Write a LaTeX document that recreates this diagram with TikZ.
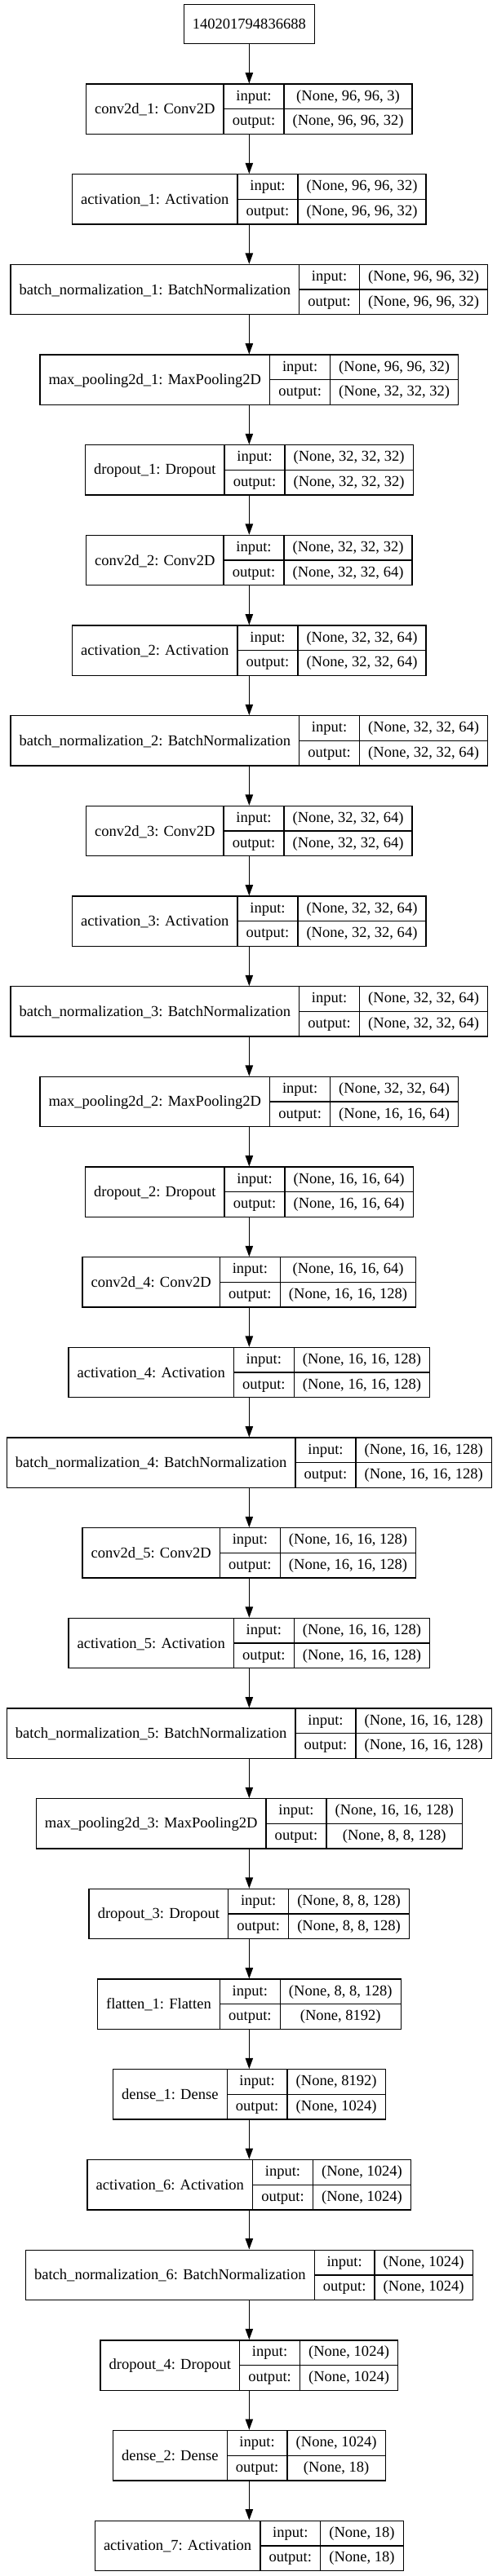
\documentclass[tikz,border=0pt]{standalone}
\usepackage{fontspec}
\setmainfont{Liberation Serif}
\usetikzlibrary{arrows.meta}
\newcommand\lfont{\fontsize{13.9pt}{23pt}\selectfont}
\newcommand\rs{\rule[-3pt]{0pt}{13pt}}
\newcommand\rl{\rule[-2pt]{0pt}{13pt}}
\tikzset{
  cell/.style={draw, line width=1pt, inner xsep=8pt, inner ysep=0pt, outer sep=0pt,
               minimum height=46pt, anchor=center, font=\lfont, align=center},
  rec/.style={inner sep=0pt, outer sep=0pt, column sep=-1pt, ampersand replacement=\&},
  divider/.style={line width=1pt},
  arr/.style={line width=1pt, -{Triangle[length=10pt,width=7pt]}},
}
% #1 name, #2 index, #3 label, #4 input shape, #5 output shape
\newcommand\layerrec[5]{%
  \pgfmathsetmacro\LWy{-100.35-83*(#2-1)}%
  \matrix[rec] (#1) at (229,\LWy) {
    \node[cell] (#1-lab) {\rl #3}; \&
    \node[cell] (#1-io) {\rs input:\\\rs output:}; \&
    \node[cell] (#1-val) {\rs #4\\\rs #5}; \\
  };
  \draw[divider] (#1-io.west) -- (#1-val.east);
}
\begin{document}
\begin{tikzpicture}[x=1pt,y=1pt]
\fill[white] (0,0) rectangle (456,-2369.25);
\useasboundingbox (0,0) rectangle (456,-2369.25);
\node[cell, minimum height=36pt] (L0) at (229,-22.35) {\rl 140201794836688};
\layerrec{L1}{1}{conv2d\_1: Conv2D}{(None, 96, 96, 3)}{(None, 96, 96, 32)}
\layerrec{L2}{2}{activation\_1: Activation}{(None, 96, 96, 32)}{(None, 96, 96, 32)}
\layerrec{L3}{3}{batch\_normalization\_1: BatchNormalization}{(None, 96, 96, 32)}{(None, 96, 96, 32)}
\layerrec{L4}{4}{max\_pooling2d\_1: MaxPooling2D}{(None, 96, 96, 32)}{(None, 32, 32, 32)}
\layerrec{L5}{5}{dropout\_1: Dropout}{(None, 32, 32, 32)}{(None, 32, 32, 32)}
\layerrec{L6}{6}{conv2d\_2: Conv2D}{(None, 32, 32, 32)}{(None, 32, 32, 64)}
\layerrec{L7}{7}{activation\_2: Activation}{(None, 32, 32, 64)}{(None, 32, 32, 64)}
\layerrec{L8}{8}{batch\_normalization\_2: BatchNormalization}{(None, 32, 32, 64)}{(None, 32, 32, 64)}
\layerrec{L9}{9}{conv2d\_3: Conv2D}{(None, 32, 32, 64)}{(None, 32, 32, 64)}
\layerrec{L10}{10}{activation\_3: Activation}{(None, 32, 32, 64)}{(None, 32, 32, 64)}
\layerrec{L11}{11}{batch\_normalization\_3: BatchNormalization}{(None, 32, 32, 64)}{(None, 32, 32, 64)}
\layerrec{L12}{12}{max\_pooling2d\_2: MaxPooling2D}{(None, 32, 32, 64)}{(None, 16, 16, 64)}
\layerrec{L13}{13}{dropout\_2: Dropout}{(None, 16, 16, 64)}{(None, 16, 16, 64)}
\layerrec{L14}{14}{conv2d\_4: Conv2D}{(None, 16, 16, 64)}{(None, 16, 16, 128)}
\layerrec{L15}{15}{activation\_4: Activation}{(None, 16, 16, 128)}{(None, 16, 16, 128)}
\layerrec{L16}{16}{batch\_normalization\_4: BatchNormalization}{(None, 16, 16, 128)}{(None, 16, 16, 128)}
\layerrec{L17}{17}{conv2d\_5: Conv2D}{(None, 16, 16, 128)}{(None, 16, 16, 128)}
\layerrec{L18}{18}{activation\_5: Activation}{(None, 16, 16, 128)}{(None, 16, 16, 128)}
\layerrec{L19}{19}{batch\_normalization\_5: BatchNormalization}{(None, 16, 16, 128)}{(None, 16, 16, 128)}
\layerrec{L20}{20}{max\_pooling2d\_3: MaxPooling2D}{(None, 16, 16, 128)}{(None, 8, 8, 128)}
\layerrec{L21}{21}{dropout\_3: Dropout}{(None, 8, 8, 128)}{(None, 8, 8, 128)}
\layerrec{L22}{22}{flatten\_1: Flatten}{(None, 8, 8, 128)}{(None, 8192)}
\layerrec{L23}{23}{dense\_1: Dense}{(None, 8192)}{(None, 1024)}
\layerrec{L24}{24}{activation\_6: Activation}{(None, 1024)}{(None, 1024)}
\layerrec{L25}{25}{batch\_normalization\_6: BatchNormalization}{(None, 1024)}{(None, 1024)}
\layerrec{L26}{26}{dropout\_4: Dropout}{(None, 1024)}{(None, 1024)}
\layerrec{L27}{27}{dense\_2: Dense}{(None, 1024)}{(None, 18)}
\layerrec{L28}{28}{activation\_7: Activation}{(None, 18)}{(None, 18)}
\foreach \i in {1,...,28}{%
  \pgfmathtruncatemacro\j{\i-1}%
  \draw[arr] (L\j.south) -- (L\i.north);
}
\end{tikzpicture}
\end{document}
